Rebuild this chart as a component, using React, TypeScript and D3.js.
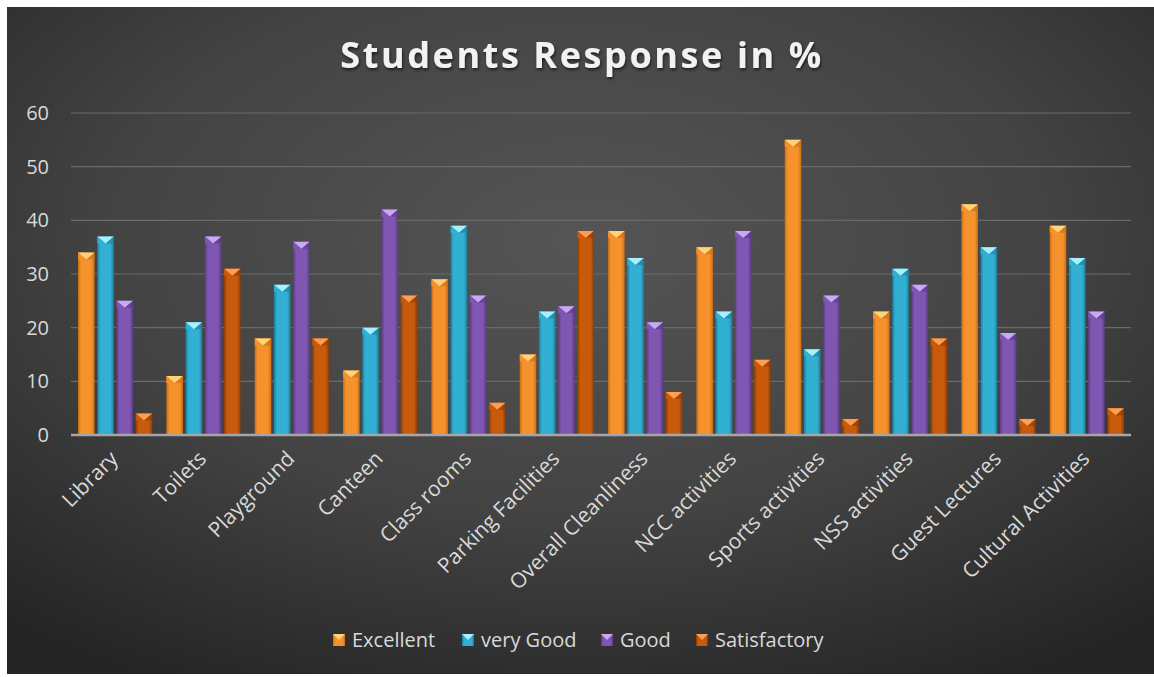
import React from "react";
import * as d3 from "d3";

const categories = [
  "Library", "Toilets", "Playground", "Canteen", "Class rooms", "Parking Facilities",
  "Overall Cleanliness", "NCC activities", "Sports activities", "NSS activities",
  "Guest Lectures", "Cultural Activities",
];
const seriesNames = ["Excellent", "very Good", "Good", "Satisfactory"];
const excellent = [34, 11, 18, 12, 29, 15, 38, 35, 55, 23, 43, 39];
const veryGood = [37, 21, 28, 20, 39, 23, 33, 23, 16, 31, 35, 33];
const good = [25, 37, 36, 42, 26, 24, 21, 38, 26, 28, 19, 23];
const satisfactory = [4, 31, 18, 26, 6, 38, 8, 14, 3, 18, 3, 5];
const yTicks = [0, 10, 20, 30, 40, 50, 60];

const seriesValues = [excellent, veryGood, good, satisfactory];
const colors = [
  { base: "#F5922B", dark: "#C96F16", light: "#FFD37A" },
  { base: "#31B0D4", dark: "#1E7F9A", light: "#A8F0FF" },
  { base: "#7F56B2", dark: "#5A3A84", light: "#C9A9F2" },
  { base: "#C85A0C", dark: "#8E3C05", light: "#FF9D52" },
];

const W = 1154, H = 677;
const plotL = 71, plotR = 1131, plotT = 113, plotB = 435;
const FONT = "'Open Sans', 'DejaVu Sans', sans-serif";

export default function App() {
  const x0 = d3.scaleBand().domain(categories).range([plotL, plotR]).paddingInner(0.16).paddingOuter(0.08);
  const x1 = d3.scaleBand().domain(seriesNames).range([0, x0.bandwidth()]).paddingInner(0.14);
  const y = d3.scaleLinear().domain([0, 60]).range([plotB, plotT]);

  const legendX = [333, 462, 601, 696];

  return (
    <svg width={W} height={H} style={{ position: "absolute", left: 0, top: 0, background: "#fff" }}>
      <defs>
        <radialGradient id="bg" cx="50%" cy="35%" r="75%">
          <stop offset="0%" stopColor="#555555" />
          <stop offset="55%" stopColor="#434343" />
          <stop offset="100%" stopColor="#252525" />
        </radialGradient>
        {colors.map((c, i) => (
          <linearGradient key={i} id={`g${i}`} x1="0" x2="1" y1="0" y2="0">
            <stop offset="0%" stopColor={c.dark} />
            <stop offset="18%" stopColor={c.base} />
            <stop offset="80%" stopColor={c.base} />
            <stop offset="100%" stopColor={c.dark} />
          </linearGradient>
        ))}
        <filter id="tshadow" x="-5%" y="-20%" width="110%" height="150%">
          <feDropShadow dx="1" dy="2" stdDeviation="1.5" floodColor="#000" floodOpacity="0.6" />
        </filter>
      </defs>
      <rect x={7} y={7} width={W - 7} height={H - 10} fill="url(#bg)" />
      <text x={582} y={68} textAnchor="middle" fill="#f2f2f2" fontFamily={FONT} fontWeight={700}
        fontSize={36} letterSpacing={2.6} filter="url(#tshadow)">Students Response in %</text>

      {yTicks.map((t) => (
        <g key={t}>
          {t > 0 && (
            <line x1={plotL} x2={plotR} y1={y(t)} y2={y(t)} stroke="#6a6a6a" strokeWidth={1.2} />
          )}
          <text x={49} y={y(t) + 7} textAnchor="end" fill="#d9d9d9" fontFamily={FONT} fontSize={20}>{t}</text>
        </g>
      ))}

      {categories.map((cat, ci) => (
        <g key={cat}>
          {seriesNames.map((s, si) => {
            const v = seriesValues[si][ci];
            const bx = (x0(cat) as number) + (x1(s) as number);
            const bw = x1.bandwidth();
            const by = y(v);
            const bh = plotB - by;
            const cap = Math.min(7, bh);
            const c = colors[si];
            return (
              <g key={s}>
                <rect x={bx} y={by} width={bw} height={bh} fill={`url(#g${si})`} />
                <polygon points={`${bx},${by} ${bx + bw},${by} ${bx + bw / 2},${by + cap}`} fill={c.light} />
                <polygon points={`${bx},${by} ${bx + bw / 2},${by + cap} ${bx},${by + cap}`} fill={c.base} opacity={0.9} />
                <polygon points={`${bx + bw},${by} ${bx + bw / 2},${by + cap} ${bx + bw},${by + cap}`} fill={c.dark} opacity={0.6} />
              </g>
            );
          })}
          <text transform={`translate(${(x0(cat) as number) + x0.bandwidth() / 2 + 4},${460}) rotate(-45)`}
            textAnchor="end" fill="#d9d9d9" fontFamily={FONT} fontSize={21}>{cat}</text>
        </g>
      ))}
      <line x1={plotL} x2={plotR} y1={plotB} y2={plotB} stroke="#a6a6a6" strokeWidth={2.5} />

      {seriesNames.map((s, i) => {
        const c = colors[i];
        const lx = legendX[i], ly = 634;
        return (
          <g key={s}>
            <rect x={lx} y={ly} width={12} height={12} fill={`url(#g${i})`} />
            <polygon points={`${lx},${ly} ${lx + 12},${ly} ${lx + 6},${ly + 6}`} fill={c.light} />
            <text x={lx + 19} y={ly + 13} fill="#d9d9d9" fontFamily={FONT} fontSize={20}>{s}</text>
          </g>
        );
      })}
    </svg>
  );
}
